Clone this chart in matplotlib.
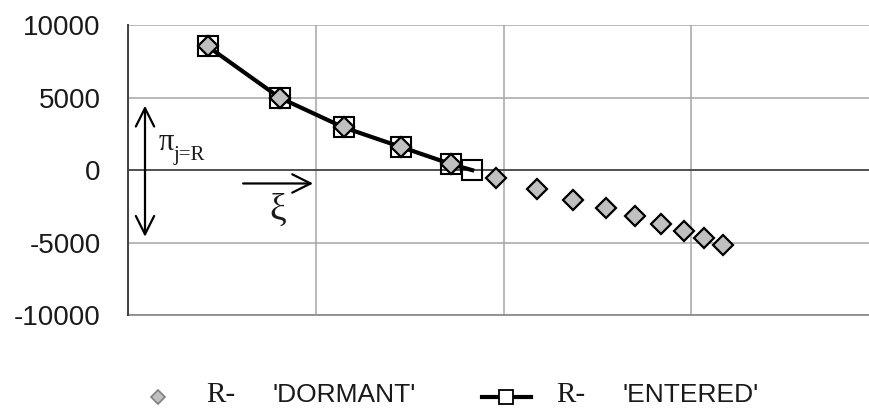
import matplotlib
matplotlib.use("Agg")
import matplotlib.pyplot as plt
from matplotlib.lines import Line2D

# ---- data (x in unitless grid units; y values) ----
entered_x = [0.423, 0.807, 1.148, 1.451, 1.721, 1.833]
entered_y = [8550, 5000, 2950, 1610, 415, 0]
dormant_x = [0.423, 0.807, 1.148, 1.451, 1.721, 1.961, 2.178, 2.373,
             2.544, 2.700, 2.841, 2.962, 3.068, 3.172]
dormant_y = [8550, 5000, 2950, 1610, 415, -550, -1290, -2030,
             -2610, -3180, -3750, -4220, -4650, -5140]
y_ticks = [-10000, -5000, 0, 5000, 10000]
x_grid = [0, 1, 2, 3, 4]
legend_prefix = "R-"
legend_names = ["'DORMANT'", "'ENTERED'"]

W, H = 869, 408
fig = plt.figure(figsize=(W / 100, H / 100), dpi=100)
ax = fig.add_axes([128.3 / W, 1 - 315 / H, 1 - 128.3 / W, (315 - 25.3) / H])

ax.set_yticks(y_ticks)
ax.set_yticklabels([str(v) for v in y_ticks], fontfamily="Liberation Sans",
                   fontsize=20, color="#1a1a1a")
ax.tick_params(axis="y", length=0, pad=20)
ax.set_xticks(x_grid)
ax.tick_params(axis="x", length=0, labelbottom=False)
ax.set_xlim(0, (W - 128.3) / 187.6)
ax.set_ylim(-10000, 10000)
ax.grid(True, color="#a6a6a6", linewidth=1.1)
ax.set_axisbelow(True)

for s in ["top", "right"]:
    ax.spines[s].set_visible(False)
ax.spines["bottom"].set_position(("data", 0))
ax.spines["bottom"].set_color("#404040")
ax.spines["bottom"].set_linewidth(1.2)
ax.spines["left"].set_color("#404040")
ax.spines["left"].set_linewidth(1.4)
ax.axhline(-10000, color="#8c8c8c", linewidth=1.3, clip_on=False, zorder=1)

# series
ax.plot(entered_x, entered_y, color="black", linewidth=3, marker="s",
        markersize=15, markerfacecolor="none", markeredgecolor="black",
        markeredgewidth=1.5, zorder=3)
ax.plot(dormant_x, dormant_y, linestyle="none", marker="D", markersize=10.5,
        markerfacecolor="#c0c0c0", markeredgecolor="black",
        markeredgewidth=1.6, zorder=4)

# annotations
ax.annotate("", xy=(0.089, 4450), xytext=(0.089, -4600),
            arrowprops=dict(arrowstyle="<->,head_length=0.6,head_width=0.3",
                            color="black", lw=1.6,
                            mutation_scale=22, shrinkA=0, shrinkB=0))
ax.annotate("", xy=(0.985, -920), xytext=(0.612, -920),
            arrowprops=dict(arrowstyle="->,head_length=0.6,head_width=0.3",
                            color="black", lw=1.6,
                            mutation_scale=22, shrinkA=0, shrinkB=0))
ax.text(0.162, 1380, "π", fontfamily="Liberation Serif", fontsize=22,
        color="#1a1a1a", va="baseline", ha="left")
ax.text(0.24, 700, "j=R", fontfamily="Liberation Serif", fontsize=15,
        color="#1a1a1a", va="baseline", ha="left")
ax.text(0.75, -2800, "ξ", fontfamily="Liberation Serif", fontsize=27,
        color="#1a1a1a", va="center", ha="left")

# legend (drawn in figure pixel positions)
def fx(px):
    return px / W

def fy(py):
    return 1 - py / H

fig.add_artist(Line2D([fx(158)], [fy(396.5)], marker="D", markersize=7,
                      markerfacecolor="#c0c0c0", markeredgecolor="#808080",
                      markeredgewidth=1.2, linestyle="none",
                      transform=fig.transFigure))
fig.add_artist(Line2D([fx(482), fx(531)], [fy(396.5), fy(396.5)],
                      color="black", linewidth=3, transform=fig.transFigure))
fig.add_artist(Line2D([fx(506)], [fy(396.5)], marker="s", markersize=10,
                      markerfacecolor="white", markeredgecolor="black",
                      markeredgewidth=1.3, linestyle="none",
                      transform=fig.transFigure))
for px_r, px_n, name in [(206, 273, legend_names[0]), (556, 622, legend_names[1])]:
    fig.text(fx(px_r), fy(401.5), legend_prefix, fontfamily="Liberation Serif",
             fontsize=21, va="baseline", ha="left", color="#1a1a1a")
    fig.text(fx(px_n), fy(401.5), name, fontfamily="Liberation Sans",
             fontsize=19, va="baseline", ha="left", color="#1a1a1a")

fig.savefig("out.png", dpi=100)
